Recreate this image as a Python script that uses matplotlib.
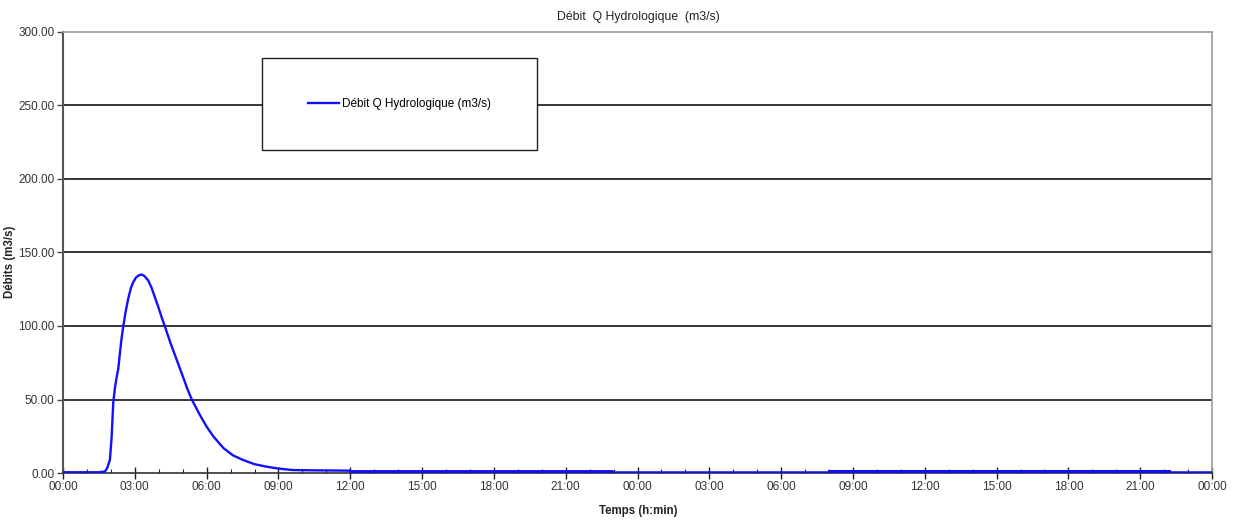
import matplotlib.pyplot as plt
from matplotlib.patches import Rectangle

# -------------------------------------------------
# DATA (hours since start, discharge in m3/s)
# -------------------------------------------------

t_hours = [0, 1.5, 1.75, 1.85, 1.96, 2.03, 2.10, 2.17, 2.24, 2.31, 2.38, 2.45,
           2.52, 2.62, 2.73, 2.84, 2.94, 3.05, 3.17, 3.29, 3.40, 3.56, 3.70,
           3.85, 3.98, 4.12, 4.26, 4.50, 4.75, 5.00, 5.20, 5.38, 5.70, 6.00,
           6.30, 6.70, 7.10, 7.50, 8.00, 8.50, 9.00, 9.60, 10.50, 11.99, 12.0,
           22.99, 23.0, 48.0]
q_values = [0.5, 0.5, 1.0, 3.5, 9.0, 24.0, 48.0, 58.0, 65.0, 71.0, 82.0, 92.0,
            100.0, 110.0, 119.0, 126.0, 130.0, 133.0, 134.5, 135.0, 134.0, 131.0,
            126.0, 119.0, 113.0, 106.0, 99.5, 88.0, 77.0, 66.0, 57.0, 50.0, 40.0,
            31.5, 24.5, 17.0, 12.0, 9.0, 6.0, 4.3, 3.0, 2.0, 1.8, 1.6, 1.0,
            1.0, 0.4, 0.4]

# thicker low-flow stretches seen on the baseline
base1_t = [12.0, 22.99]
base1_q = [0.9, 0.9]
base2_t = [31.97, 46.3]
base2_q = [0.9, 0.9]

x_ticks = list(range(0, 49, 3))
x_labels = [f"{h % 24:02d}:00" for h in x_ticks]
y_ticks = [0, 50, 100, 150, 200, 250, 300]
y_labels = [f"{v:.2f}" for v in y_ticks]


# -------------------------------------------------
# PLOT
# -------------------------------------------------

plt.rcParams['font.family'] = ['Liberation Sans', 'DejaVu Sans']

fig = plt.figure(figsize=(12.4, 5.23), dpi=100)
ax = fig.add_axes([63/1240, 1 - 473/523, 1149/1240, 441/523])

# grid lines
for v in y_ticks[1:-1]:
    ax.axhline(v, color='black', lw=1.1, zorder=1)

ax.plot(base2_t, base2_q, color='black', lw=2.8, zorder=2, solid_capstyle='butt')
ax.plot(base2_t, [q + 0.6 for q in base2_q], color='#1010ff', lw=1.4, zorder=3,
        solid_capstyle='butt')
ax.plot(base1_t, base1_q, color='#1010ff', lw=2.6, zorder=3, solid_capstyle='butt')
line, = ax.plot(t_hours, q_values, color='#1010ff', lw=1.7, zorder=4,
                label="Débit Q Hydrologique (m3/s)")

ax.set_xlim(0, 48)
ax.set_ylim(0, 300)

ax.set_xticks(x_ticks)
ax.set_xticklabels(x_labels)
ax.set_xticks(range(0, 49), minor=True)
ax.set_yticks(y_ticks)
ax.set_yticklabels(y_labels)

ax.tick_params(axis='x', which='major', direction='inout', length=8, width=1,
               color='#222222', labelsize=8.5, labelcolor='#333333', pad=2)
ax.tick_params(axis='x', which='minor', direction='in', length=3, width=0.8,
               color='#222222')
ax.tick_params(axis='y', which='major', direction='out', length=4, width=1,
               color='#444444', labelsize=8.5, labelcolor='#333333', pad=2)

ax.spines['left'].set_color('#555555')
ax.spines['left'].set_linewidth(1.5)
ax.spines['bottom'].set_color('#333333')
ax.spines['bottom'].set_linewidth(1.2)
ax.spines['top'].set_color('#9a9a9a')
ax.spines['right'].set_color('#9a9a9a')
ax.spines['top'].set_linewidth(1.2)
ax.spines['right'].set_linewidth(1.2)

# legend box
x0, x1 = (262 - 63) / 1149, (537 - 63) / 1149
y0, y1 = (473 - 150) / 441, (473 - 58) / 441
ax.add_patch(Rectangle((x0, y0), x1 - x0, y1 - y0, transform=ax.transAxes,
                       facecolor='white', edgecolor='#222222', lw=1.0, zorder=5))
leg = ax.legend(handles=[line], loc='center', bbox_to_anchor=((x0 + x1) / 2, (y0 + y1) / 2),
                frameon=False, fontsize=8.5, handlelength=2.6, handletextpad=0.3)
leg.set_zorder(6)

fig.text(638/1240, 1 - 17/523, "Débit  Q Hydrologique  (m3/s)", ha='center', va='center',
         fontsize=8.8, color='#222222')
fig.text(638/1240, 1 - 511/523, "Temps (h:min)", ha='center', va='center',
         fontsize=8.3, fontweight='bold', color='#222222')
fig.text(10/1240, 1 - 262/523, "Débits (m3/s)", ha='center', va='center', rotation=90,
         fontsize=8.3, fontweight='bold', color='#222222')

fig.savefig("out.png", dpi=100)
